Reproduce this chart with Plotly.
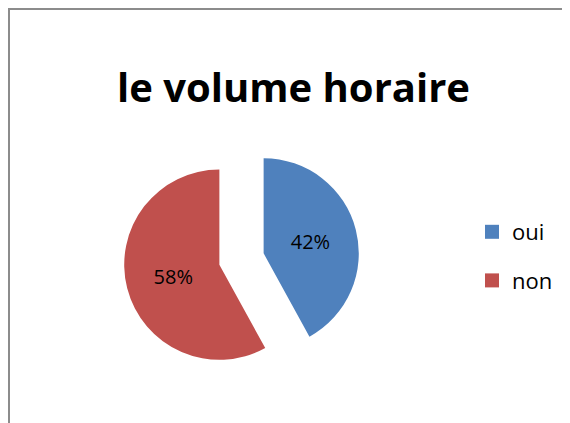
import plotly.graph_objects as go

# chart data
labels = ["oui", "non"]
values = [42, 58]
colors = ["#4F81BD", "#C0504D"]
title = "le volume horaire"

W, H = 570, 423
OFF = 8  # the page body adds an 8px margin round the figure


def px_x(x):
    return (x - OFF) / W


def px_y(y):
    return 1 - (y - OFF) / H


def main():
    fig = go.Figure()

    # exploded pie, both slices pulled out
    fig.add_trace(
        go.Pie(
            labels=labels,
            values=values,
            sort=False,
            direction="clockwise",
            rotation=0,
            pull=[0.24, 0.24],
            marker=dict(colors=colors, line=dict(width=0)),
            textinfo="percent",
            textposition="inside",
            insidetextorientation="horizontal",
            textfont=dict(color="black", size=20),
            showlegend=False,
            domain=dict(x=[px_x(123.5), px_x(359.5)], y=[px_y(377), px_y(141)]),
        )
    )

    # legend entries, one group each so the gap between them can be set
    for lab, col in zip(labels, colors):
        fig.add_trace(
            go.Scatter(
                x=[None],
                y=[None],
                mode="markers",
                name=lab,
                legendgroup=lab,
                marker=dict(symbol="square", size=14, color=col),
            )
        )

    fig.update_layout(
        width=W,
        height=H,
        margin=dict(l=0, r=0, t=0, b=0),
        paper_bgcolor="white",
        plot_bgcolor="white",
        font=dict(family="Open Sans, sans-serif", color="black"),
        title=dict(
            text="<b>%s</b>" % title,
            x=px_x(293.5),
            xanchor="center",
            y=px_y(88),
            yanchor="middle",
            font=dict(size=40, color="black"),
        ),
        xaxis=dict(visible=False),
        yaxis=dict(visible=False),
        legend=dict(
            x=px_x(472),
            y=px_y(211),
            xanchor="left",
            yanchor="top",
            font=dict(size=22),
            tracegroupgap=17,
            bgcolor="rgba(0,0,0,0)",
        ),
        # chart frame, only the left and top edges are in view
        shapes=[
            dict(
                type="rect",
                xref="paper",
                yref="paper",
                x0=1 / W,
                x1=1.05,
                y0=-0.05,
                y1=1 - 1 / H,
                line=dict(color="#8C8C8C", width=2),
            )
        ],
    )

    fig.write_html("out.html")


if __name__ == "__main__":
    main()
